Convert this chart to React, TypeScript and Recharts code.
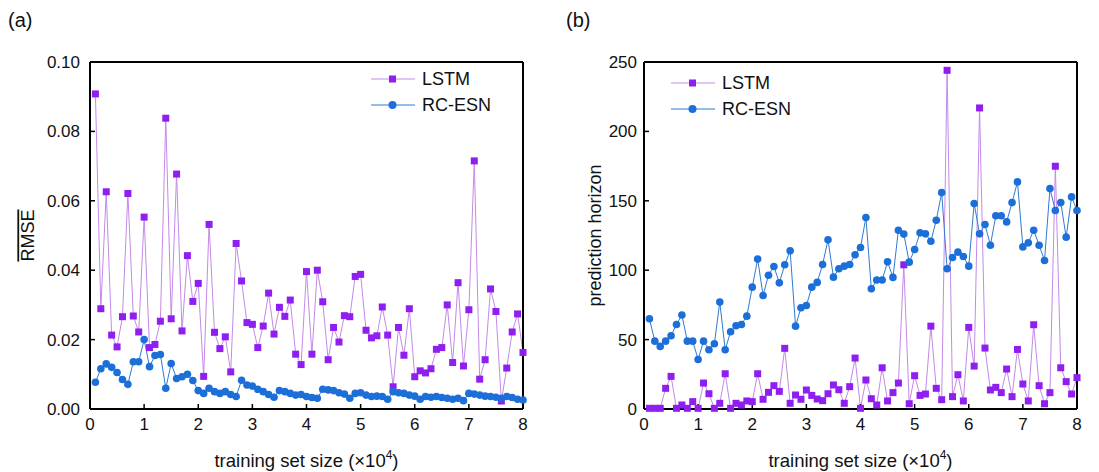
import { Line, LineChart, ReferenceLine, XAxis, YAxis } from 'recharts'

const sizes = [
  0.1, 0.2, 0.3, 0.4, 0.5, 0.6, 0.7, 0.8, 0.9, 1.0,
  1.1, 1.2, 1.3, 1.4, 1.5, 1.6, 1.7, 1.8, 1.9, 2.0,
  2.1, 2.2, 2.3, 2.4, 2.5, 2.6, 2.7, 2.8, 2.9, 3.0,
  3.1, 3.2, 3.3, 3.4, 3.5, 3.6, 3.7, 3.8, 3.9, 4.0,
  4.1, 4.2, 4.3, 4.4, 4.5, 4.6, 4.7, 4.8, 4.9, 5.0,
  5.1, 5.2, 5.3, 5.4, 5.5, 5.6, 5.7, 5.8, 5.9, 6.0,
  6.1, 6.2, 6.3, 6.4, 6.5, 6.6, 6.7, 6.8, 6.9, 7.0,
  7.1, 7.2, 7.3, 7.4, 7.5, 7.6, 7.7, 7.8, 7.9, 8.0,
]

const lstmRmse = [
  0.0908, 0.0289, 0.0626, 0.0213, 0.0179, 0.0266, 0.0621, 0.0268, 0.0222, 0.0553,
  0.0177, 0.0186, 0.0253, 0.0838, 0.026, 0.0677, 0.0225, 0.0442, 0.031, 0.0362,
  0.0094, 0.0532, 0.0221, 0.0174, 0.0208, 0.0107, 0.0477, 0.0369, 0.0249, 0.0244,
  0.0177, 0.0239, 0.0334, 0.0216, 0.0293, 0.0267, 0.0314, 0.0158, 0.0128, 0.0396,
  0.0158, 0.04, 0.0309, 0.0142, 0.0235, 0.0193, 0.0269, 0.0266, 0.0382, 0.0388,
  0.0227, 0.0205, 0.0211, 0.0294, 0.0213, 0.0064, 0.0235, 0.0155, 0.0289, 0.0093,
  0.011, 0.0104, 0.0116, 0.0172, 0.0177, 0.03, 0.0134, 0.0364, 0.0124, 0.0286,
  0.0715, 0.0086, 0.0142, 0.0346, 0.0281, 0.0023, 0.0118, 0.0222, 0.0274, 0.0163,
]

const esnRmse = [
  0.0077, 0.0116, 0.013, 0.012, 0.0105, 0.0085, 0.0071, 0.0136, 0.0136, 0.02,
  0.0122, 0.0154, 0.0157, 0.006, 0.0131, 0.0088, 0.0093, 0.01, 0.0082, 0.0053,
  0.0045, 0.006, 0.005, 0.0045, 0.005, 0.0042, 0.0036, 0.0083, 0.0069, 0.0066,
  0.0057, 0.005, 0.0042, 0.0034, 0.0053, 0.005, 0.0045, 0.004, 0.0042, 0.0036,
  0.0033, 0.0031, 0.0057, 0.0055, 0.0053, 0.0047, 0.0043, 0.0031, 0.0045, 0.0047,
  0.004, 0.0036, 0.0037, 0.0036, 0.0028, 0.005, 0.0047, 0.0045, 0.004, 0.0037,
  0.0028, 0.0036, 0.0034, 0.0036, 0.0033, 0.0031, 0.0028, 0.0031, 0.0024, 0.0045,
  0.0043, 0.004, 0.0037, 0.0036, 0.0034, 0.0031, 0.0036, 0.0033, 0.0028, 0.0026,
]

const lstmHorizon = [
  0.5, 0.5, 0.5, 14.9, 23.5, 0.5, 2.9, 0.5, 5.3, 0.5,
  18.7, 11, 0.5, 4.1, 25.4, 0.5, 4.1, 2.9, 5.8, 5.3,
  25.4, 7, 12, 16.8, 12.7, 43.7, 4.1, 10.1, 7, 13.7,
  9.8, 7.2, 6, 11, 17.3, 13.9, 4.1, 16.1, 36.7, 0.5,
  20.9, 7.4, 2.9, 29.7, 5.8, 11.8, 18.7, 103.9, 3.8, 24,
  9.8, 10.8, 59.7, 14.9, 6.7, 244, 8.9, 24.7, 5.8, 58.8,
  30.9, 216.9, 43.9, 13.7, 15.6, 11.8, 28.8, 8.9, 42.9, 18,
  5.8, 60.7, 16.8, 3.8, 11.8, 174.9, 29.7, 19.7, 10.8, 22.6,
]

const esnHorizon = [
  65, 48.9, 45.1, 48.9, 52.8, 60.9, 67.7, 48.9, 48.9, 35.7,
  48.9, 42.7, 47, 77, 42.7, 55.7, 60, 60.9, 66.9, 87.8,
  108, 81.8, 96.4, 102.7, 90.9, 103.9, 114, 59.7, 72.9, 74.6,
  87.8, 91.2, 104.1, 121.9, 95, 101, 102.9, 104.1, 111.1, 116.4,
  138, 86.6, 92.9, 92.9, 106, 94.8, 128.8, 126, 105.8, 114.9,
  126.9, 126.2, 120.9, 136, 155.9, 101, 109.2, 113, 109.9, 102.9,
  148, 126.2, 132.9, 118, 139.2, 139.2, 134.8, 148.7, 163.6, 116.8,
  119.7, 128.8, 118, 107, 158.8, 143, 148.7, 123.8, 152.8, 143,
]

const xTicks = [0, 1, 2, 3, 4, 5, 6, 7, 8]
const rmseTicks = [0, 0.02, 0.04, 0.06, 0.08, 0.1]
const horizonTicks = [0, 50, 100, 150, 200, 250]

const rmseRows = sizes.map((s, i) => ({ size: s, lstm: lstmRmse[i], esn: esnRmse[i] }))
const horizonRows = sizes.map((s, i) => ({ size: s, lstm: lstmHorizon[i], esn: esnHorizon[i] }))

const FONT = '"Liberation Sans", Arial, sans-serif'
const PURPLE = '#8f1ff0'
const PURPLE_LINE = '#c489e8'
const BLUE = '#1c6fd8'
const BLUE_LINE = '#2e7bd2'

const SquareDot = (props: any) => {
  const { cx, cy, index } = props
  if (cx == null || cy == null) return <g key={index} />
  return <rect key={index} x={cx - 3.5} y={cy - 3.5} width={7} height={7} fill={PURPLE} />
}

function LegendBox(props: { left: number; top: number }) {
  const row = (label: string, square: boolean) => (
    <div style={{ display: 'flex', alignItems: 'center', height: 26 }}>
      <svg width={48} height={14}>
        <line x1={0} x2={44} y1={7} y2={7} stroke={square ? PURPLE_LINE : BLUE_LINE} strokeWidth={1.2} />
        {square ? (
          <rect x={18} y={3.5} width={7} height={7} fill={PURPLE} />
        ) : (
          <circle cx={21.5} cy={7} r={4} fill={BLUE} />
        )}
      </svg>
      <span style={{ marginLeft: 3, fontSize: 18, fontFamily: FONT, color: '#111' }}>{label}</span>
    </div>
  )
  return (
    <div style={{ position: 'absolute', left: props.left, top: props.top }}>
      {row('LSTM', true)}
      {row('RC-ESN', false)}
    </div>
  )
}

const xLabel = (props: any) => {
  const { viewBox } = props
  const cx = viewBox.x + viewBox.width / 2
  return (
    <text x={cx} y={467} textAnchor='middle' fontSize={18.5} fontFamily={FONT} fill='#111'>
      training set size (×10
      <tspan dy={-8} fontSize={12}>4</tspan>
      <tspan dy={8}>)</tspan>
    </text>
  )
}

function Panel(props: {
  left: number
  rows: any[]
  yMax: number
  yTicks: number[]
  yFmt: (v: number) => string
  yWidth: number
  tickGap: number
  yLabel: string
  yLabelX: number
  overline?: boolean
  legendPos: { left: number; top: number }
}) {
  const { rows, yMax, yTicks, yFmt, yWidth, tickGap, yLabel, yLabelX, overline, legendPos } = props
  const tickStyle = { fontSize: 17, fontFamily: FONT, fill: '#111' }
  return (
    <div style={{ position: 'absolute', left: props.left, top: 0 }}>
      <LineChart
        width={545}
        height={472}
        data={rows}
        margin={{ top: 62, right: 22, left: 0, bottom: 0 }}
      >
        <XAxis
          dataKey='size'
          type='number'
          domain={[0, 8]}
          ticks={xTicks}
          axisLine={false}
          tickSize={-5}
          tickMargin={14}
          tickLine={{ stroke: '#000', strokeWidth: 1.5 }}
          tick={tickStyle}
          height={63}
          label={xLabel}
        />
        <YAxis
          type='number'
          domain={[0, yMax]}
          ticks={yTicks}
          tickFormatter={yFmt}
          axisLine={false}
          tickSize={-5}
          tickMargin={tickGap}
          tickLine={{ stroke: '#000', strokeWidth: 1.5 }}
          tick={tickStyle}
          width={yWidth}
          label={{
            value: yLabel,
            angle: -90,
            position: 'insideLeft',
            offset: 0,
            dx: yLabelX,
            style: {
              fontSize: 18,
              fontFamily: FONT,
              fill: '#111',
              textAnchor: 'middle',
              textDecoration: overline ? 'overline' : 'none',
            },
          }}
        />
        <Line
          dataKey='lstm'
          name='LSTM'
          type='linear'
          stroke={PURPLE_LINE}
          strokeWidth={1}
          dot={SquareDot}
          activeDot={false}
          isAnimationActive={false}
        />
        <Line
          dataKey='esn'
          name='RC-ESN'
          type='linear'
          stroke={BLUE_LINE}
          strokeWidth={1}
          dot={{ r: 3.8, fill: BLUE, stroke: BLUE, strokeWidth: 0 }}
          activeDot={false}
          isAnimationActive={false}
        />
        <ReferenceLine x={0} stroke='#000' strokeWidth={2} />
        <ReferenceLine x={8} stroke='#000' strokeWidth={2} />
        <ReferenceLine y={0} stroke='#000' strokeWidth={2} />
        <ReferenceLine y={yMax} stroke='#000' strokeWidth={2} />
      </LineChart>
      <LegendBox left={legendPos.left} top={legendPos.top} />
    </div>
  )
}

export default function App() {
  return (
    <div style={{ position: 'absolute', left: 0, top: 0, width: 1099, height: 472, background: '#fff' }}>
      <div style={{ position: 'absolute', left: 8, top: 9, fontSize: 20, fontFamily: FONT, color: '#111' }}>(a)</div>
      <div style={{ position: 'absolute', left: 566, top: 9, fontSize: 20, fontFamily: FONT, color: '#111' }}>(b)</div>
      <Panel
        left={0}
        rows={rmseRows}
        yMax={0.1}
        yTicks={rmseTicks}
        yFmt={(v) => v.toFixed(2)}
        yWidth={90}
        tickGap={15}
        yLabel='RMSE'
        yLabelX={28}
        overline
        legendPos={{ left: 371, top: 66 }}
      />
      <Panel
        left={554}
        rows={horizonRows}
        yMax={250}
        yTicks={horizonTicks}
        yFmt={(v) => String(v)}
        yWidth={90}
        tickGap={12}
        yLabel='prediction horizon'
        yLabelX={41}
        legendPos={{ left: 117, top: 70 }}
      />
    </div>
  )
}
